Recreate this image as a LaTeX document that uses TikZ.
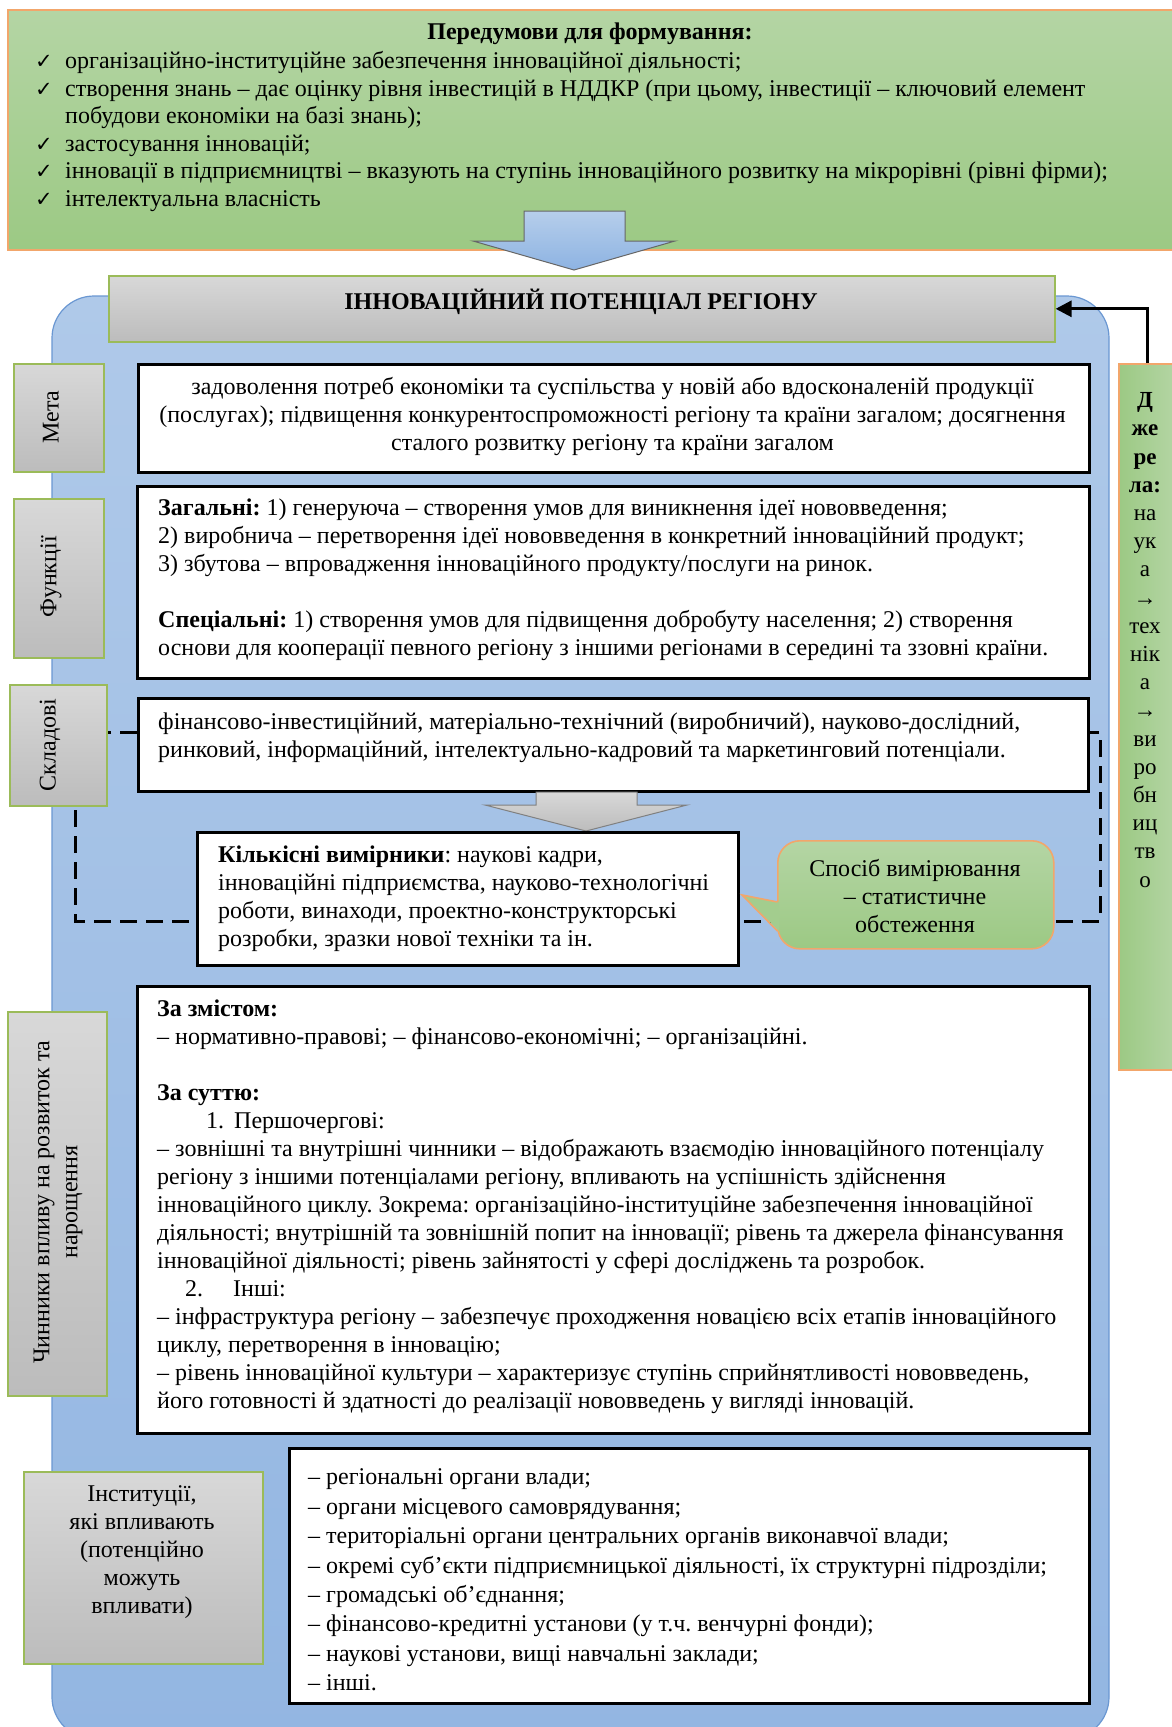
\documentclass[tikz,border=0pt]{standalone}
\usepackage{fontspec}
\setmainfont{Liberation Serif}
\newfontfamily\symfont{DejaVu Sans}
\usetikzlibrary{arrows.meta}
\frenchspacing
\definecolor{grnTop}{HTML}{B4D5A4}
\definecolor{grnBot}{HTML}{9CC984}
\definecolor{orng}{HTML}{F2A66B}
\definecolor{bluTop}{HTML}{AFC9E9}
\definecolor{bluBot}{HTML}{93B6E2}
\definecolor{bluEdge}{HTML}{6A97D2}
\definecolor{gryTop}{HTML}{D8D8D8}
\definecolor{gryBot}{HTML}{BCBCBC}
\definecolor{olive}{HTML}{9BBB59}
\definecolor{arrTop}{HTML}{B6CEEB}
\definecolor{arrBot}{HTML}{8DB3E2}
\tikzset{
  body/.style={font=\fontsize{24}{28}\selectfont, inner sep=0pt},
  frame/.style={draw=black, line width=3pt, fill=white, anchor=north west, inner sep=0pt},
  tab/.style={draw=olive, line width=1.6pt, top color=gryTop, bottom color=gryBot, anchor=north west, inner sep=0pt},
  greenpanel/.style={draw=orng, line width=2pt, top color=grnTop, bottom color=grnBot, anchor=north west, inner sep=0pt},
  lefttext/.style={body, anchor=west, align=left},
}
\newcommand{\ck}{\makebox[30pt][l]{\symfont\fontsize{21}{21}\selectfont ✓}}
\begin{document}
\frenchspacing
\begin{tikzpicture}[x=1pt,y=-1pt]
\useasboundingbox (0,0) rectangle (1171,1727);
\fill[white] (0,0) rectangle (1171,1727);

% ---- top panel
\node[greenpanel, minimum width=1170pt, minimum height=240pt] (pre) at (7,9) {};
\node[body, font=\fontsize{24}{28}\selectfont\bfseries] (preTitle) at (590,34) {Передумови для формування:};
\node[lefttext, font=\fontsize{24}{27.5}\selectfont] (preList) at (35,131.5) {\ck організаційно-інституційне забезпечення інноваційної діяльності;\\
\ck створення знань – дає оцінку рівня інвестицій в НДДКР (при цьому, інвестиції – ключовий елемент\\
\hspace*{30pt}побудови економіки на базі знань);\\
\ck застосування інновацій;\\
\ck інновації в підприємництві – вказують на ступінь інноваційного розвитку на мікрорівні (рівні фірми);\\
\ck інтелектуальна власність};

% ---- big blue panel
\draw[draw=bluEdge, line width=1.2pt, top color=bluTop, bottom color=bluBot, rounded corners=42pt] (52,296) rectangle (1109,1739);

% ---- blue arrow
\draw[draw=gray!80!black, line width=1pt, top color=arrTop, bottom color=arrBot] (524,211) -- (625,211) -- (625,241) -- (675,241) -- (574,270) -- (473,241) -- (524,241) -- cycle;

% ---- title
\node[tab, minimum width=946pt, minimum height=66pt] (title) at (108,275) {};
\node[body, font=\fontsize{24}{28}\selectfont\bfseries] (titleT) at (581,302) {ІННОВАЦІЙНИЙ ПОТЕНЦІАЛ РЕГІОНУ};

% ---- Мета
\node[tab, minimum width=90pt, minimum height=108pt] (metaL) at (13,363) {};
\node[body, rotate=90] (metaLT) at (51,417) {Мета};
\node[frame, minimum width=951pt, minimum height=108pt] (meta) at (137,363) {};
\node[body, align=center] (metaT) at (612.5,416) {задоволення потреб економіки та суспільства у новій або вдосконаленій продукції\\
(послугах); підвищення конкурентоспроможності регіону та країни загалом; досягнення\\
сталого розвитку регіону та країни загалом};

% ---- Функції
\node[tab, minimum width=90pt, minimum height=159pt] (funL) at (13,498) {};
\node[body, rotate=90] (funLT) at (51,577) {Функції};
\node[frame, minimum width=952pt, minimum height=192pt] (fun) at (136,485) {};
\node[lefttext] (funT) at (158,580) {\textbf{Загальні:} 1) генеруюча – створення умов для виникнення ідеї нововведення;\\
2) виробнича – перетворення ідеї нововведення в конкретний інноваційний продукт;\\
3) збутова – впровадження інноваційного продукту/послуги на ринок.\\[28pt]
\textbf{Спеціальні:} 1) створення умов для підвищення добробуту населення; 2) створення\\
основи для кооперації певного регіону з іншими регіонами в середині та ззовні країни.};

% ---- dashed frame
\draw[black, line width=3pt, dash pattern=on 17pt off 9pt] (75,732) rectangle (1100,921);

% ---- Складові
\node[tab, minimum width=97pt, minimum height=121pt] (sklL) at (9,684) {};
\node[body, rotate=90] (sklLT) at (50,745) {Складові};
\node[frame, minimum width=950pt, minimum height=93pt] (skl) at (137,697) {};
\node[lefttext] (sklT) at (158,737) {фінансово-інвестиційний, матеріально-технічний (виробничий), науково-дослідний,\\
ринковий, інформаційний, інтелектуально-кадровий та маркетинговий потенціали.};

% ---- gray arrow
\draw[draw=gray, line width=1pt, top color=gryTop, bottom color=gryBot] (536,792) -- (637,792) -- (637,805) -- (687,805) -- (586,831) -- (485,805) -- (536,805) -- cycle;

% ---- Кількісні вимірники
\node[frame, minimum width=541pt, minimum height=133pt] (kil) at (196,831) {};
\node[lefttext] (kilT) at (218,899) {\textbf{Кількісні вимірники}: наукові кадри,\\
інноваційні підприємства, науково-технологічні\\
роботи, винаходи, проектно-конструкторські\\
розробки, зразки нової техніки та ін.};

% ---- bubble
\node[draw=orng, line width=1.6pt, top color=grnTop, bottom color=grnBot, rounded corners=22pt, anchor=north west, minimum width=276pt, minimum height=108pt, inner sep=0pt] (bub) at (777,840) {};
\fill[grnBot!69!grnTop] (742,895) -- (779,902) -- (779,931) -- cycle;
\draw[orng, line width=1.6pt, line join=miter] (777.5,902) -- (742,895) -- (777.5,931);
\node[body, align=center] (bubT) at (915,896) {Спосіб вимірювання\\– статистичне\\обстеження};

% ---- Чинники
\node[tab, minimum width=99pt, minimum height=384pt] (chnL) at (7,1011) {};
\node[body, rotate=90, align=center] (chnLT) at (58,1202) {Чинники впливу на розвиток та\\нарощення};
\node[frame, minimum width=952pt, minimum height=447pt] (chn) at (136,985) {};
\node[lefttext] (chnT) at (157,1207) {\textbf{За змістом:}\\
– нормативно-правові; – фінансово-економічні; – організаційні.\\[28pt]
\textbf{За суттю:}\\
\hspace*{49pt}\makebox[28pt][l]{1.}Першочергові:\\
– зовнішні та внутрішні чинники – відображають взаємодію інноваційного потенціалу\\
регіону з іншими потенціалами регіону, впливають на успішність здійснення\\
інноваційного циклу. Зокрема: організаційно-інституційне забезпечення інноваційної\\
діяльності; внутрішній та зовнішній попит на інновації; рівень та джерела фінансування\\
інноваційної діяльності; рівень зайнятості у сфері досліджень та розробок.\\
\hspace*{28pt}\makebox[48pt][l]{2.}Інші:\\
– інфраструктура регіону – забезпечує проходження новацією всіх етапів інноваційного\\
циклу, перетворення в інновацію;\\
– рівень інноваційної культури – характеризує ступінь сприйнятливості нововведень,\\
його готовності й здатності до реалізації нововведень у вигляді інновацій.};

% ---- Інституції
\node[tab, minimum width=239pt, minimum height=192pt] (insL) at (23,1471) {};
\node[body, align=center] (insLT) at (142,1552) {Інституції,\\які впливають\\(потенційно\\можуть\\впливати)};
\node[frame, minimum width=800pt, minimum height=255pt] (ins) at (288,1447) {};
\node[lefttext, font=\fontsize{24}{29.4}\selectfont] (insT) at (308,1580) {– регіональні органи влади;\\
– органи місцевого самоврядування;\\
– територіальні органи центральних органів виконавчої влади;\\
– окремі суб’єкти підприємницької діяльності, їх структурні підрозділи;\\
– громадські об’єднання;\\
– фінансово-кредитні установи (у т.ч. венчурні фонди);\\
– наукові установи, вищі навчальні заклади;\\
– інші.};

% ---- Джерела
\node[draw=orng, line width=2pt, left color=grnBot, right color=grnTop, anchor=north west, minimum width=57pt, minimum height=706pt, inner sep=0pt] (dzh) at (1118,363) {};
\node[align=center, inner sep=0pt, font=\fontsize{23}{28.2}\selectfont] (dzhT) at (1145,640) {\textbf{Д}\\\textbf{же}\\\textbf{ре}\\\textbf{ла:}\\на\\ук\\а\\→\\тех\\нік\\а\\→\\ви\\ро\\бн\\иц\\тв\\о};
\draw[line width=3pt, -{Triangle[length=16pt,width=16pt]}] (dzh.north) |- (title.east);
\end{tikzpicture}
\end{document}
